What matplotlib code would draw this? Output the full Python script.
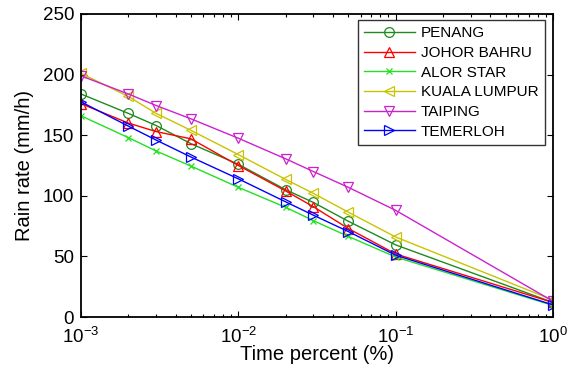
import matplotlib
matplotlib.use("Agg")
import matplotlib.pyplot as plt
from matplotlib.ticker import LogLocator, NullFormatter, FixedLocator

plt.rcParams['font.family'] = ['Liberation Sans', 'DejaVu Sans']

time_pct = [0.001, 0.002, 0.003, 0.005, 0.01, 0.02, 0.03, 0.05, 0.1, 1.0]

penang   = [184, 168, 158, 143, 126, 105, 94.5, 79, 59.5, 12]
johor    = [176, 160, 153, 147, 125, 104, 91, 73, 52, 12]
alor     = [166, 148, 137, 124.5, 107, 90.5, 79.5, 66.5, 49.5, 9.5]
kuala    = [201, 182, 168, 154, 134, 113.5, 102, 86.5, 66, 14]
taiping  = [199, 184, 174.5, 163.5, 147.5, 130.5, 120, 107, 88, 13]
temerloh = [177.5, 157.5, 146, 132, 114, 95, 84, 70.5, 51, 10]

names = ["PENANG", "JOHOR BAHRU", "ALOR STAR", "KUALA LUMPUR", "TAIPING", "TEMERLOH"]
series = [penang, johor, alor, kuala, taiping, temerloh]
colors = ["#1f8a1f", "#ff0000", "#22e022", "#c8c400", "#cc22cc", "#0000ff"]
markers = ["o", "^", "x", "<", "v", ">"]

fig = plt.figure(figsize=(5.72, 3.72), dpi=100)
ax = fig.add_axes([81/572, 55/372, 472/572, 303/372])

for name, vals, c, m in zip(names, series, colors, markers):
    ax.plot(time_pct, vals, color=c, marker=m, markersize=7 if m != "x" else 4,
            markerfacecolor="none", markeredgecolor=c, linewidth=1.0,
            markeredgewidth=0.9, label=name)

ax.set_xscale("log")
ax.set_xlim(1e-3, 1)
ax.set_ylim(0, 250)
ax.set_yticks([0, 50, 100, 150, 200, 250])
ax.xaxis.set_major_locator(FixedLocator([1e-3, 1e-2, 1e-1, 1]))
ax.xaxis.set_minor_locator(LogLocator(base=10, subs=range(2, 10), numticks=20))
ax.xaxis.set_minor_formatter(NullFormatter())
ax.set_xticklabels([r"$\mathregular{10^{-3}}$", r"$\mathregular{10^{-2}}$",
                    r"$\mathregular{10^{-1}}$", r"$\mathregular{10^{0}}$"])

ax.tick_params(which="both", direction="in", top=True, right=True, labelsize=13.5, width=0.8)
ax.tick_params(which="major", length=4)
ax.tick_params(which="minor", length=2.5)
ax.tick_params(axis="x", pad=7)
ax.tick_params(axis="y", pad=5)
for s in ax.spines.values():
    s.set_linewidth(1.3)

ax.set_xlabel("Time percent (%)", fontsize=14.5, labelpad=-1)
ax.set_ylabel("Rain rate (mm/h)", fontsize=14.5, labelpad=6)

leg = ax.legend(loc="upper right", bbox_to_anchor=(0.982, 0.979), fontsize=11,
                frameon=True, fancybox=False, edgecolor="black", handlelength=3.3,
                borderpad=0.4, labelspacing=0.37, handletextpad=0.4, borderaxespad=0)
leg.get_frame().set_linewidth(1.0)

fig.savefig("out.png", dpi=100)
